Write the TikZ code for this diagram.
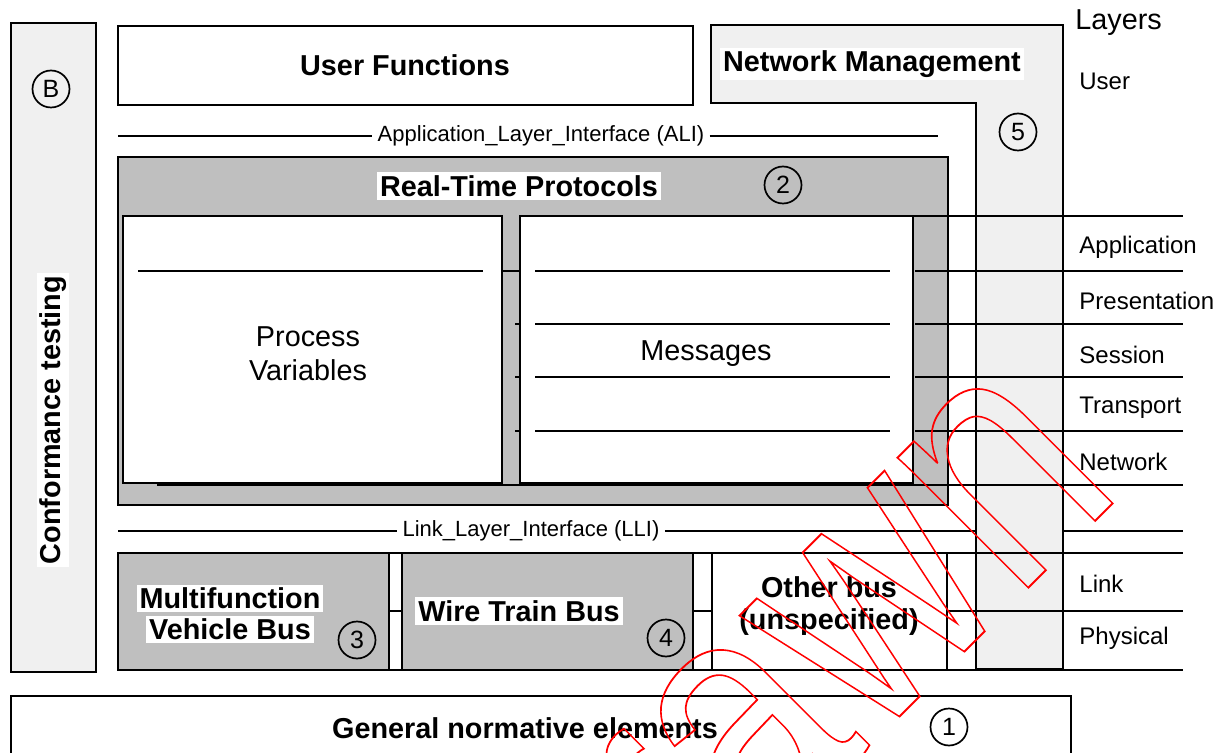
\documentclass[tikz,border=0pt]{standalone}
\usepackage{fontspec}
\setmainfont{Liberation Sans}
\usetikzlibrary{positioning}
\definecolor{lightgr}{gray}{0.94}
\definecolor{midgr}{gray}{0.75}
\tikzstyle{box}=[draw=black,line width=0.75pt]
\tikzstyle{lyr}=[line width=1.3pt]
\tikzstyle{ttl}=[fill=white,inner sep=1.5pt,font=\bfseries\fontsize{14.4}{16}\selectfont]
\tikzstyle{txt}=[inner sep=0pt,align=center,font=\fontsize{14.4}{17}\selectfont]
\tikzstyle{num}=[draw,circle,line width=0.85pt,minimum size=18.5pt,inner sep=0pt,font=\fontsize{12.5}{12.5}\selectfont]
\tikzstyle{lbl}=[anchor=west,inner sep=0pt,font=\fontsize{12}{14}\selectfont]
\tikzstyle{ifc}=[inner sep=2.5pt,font=\fontsize{11}{13}\selectfont]
\newcommand\hl[1]{{\fboxsep=1.5pt\colorbox{white}{#1}}}
\newcommand\outl[1]{\special{pdf:literal direct 1 Tr 0.9 w}#1\special{pdf:literal direct 0 Tr}}

\begin{document}
\begin{tikzpicture}[x=0.5pt,y=-0.5pt]
\useasboundingbox (0,0) rectangle (1225,753);
\clip (0,0) rectangle (1225,753);
% conformance testing
\draw[box,fill=lightgr] (11,23) rectangle (96,672);
\node[num] (nb) at (51,89) {B};
\node[ttl,rotate=90] (conf) at (53,420) {Conformance testing};
% user functions, network management
\draw[box,fill=white] (118,26) rectangle (693,105);
\node[ttl] (uf) at (405,65) {User Functions};
\draw[box,fill=lightgr] (711,25) -- (1063,25) -- (1063,669) -- (976,669) -- (976,103) -- (711,103) -- cycle;
\node[ttl] (nm) at (872,64) {Network Management};
\node[num] (n5) at (1018,132) {5};
% layers
\node[lbl,font=\fontsize{14.4}{16}\selectfont] (layers) at (1075,23) {Layers};
\foreach \y/\t [count=\i] in {81/User, 247/Application, 301/Presentation, 355/Session, 408/Transport, 462/Network, 584/Link, 638/Physical}
    \node[lbl] (l\i) at (1079,\y) {\t};
% ALI
\node[ifc] (ali) at (541,136) {Application\_Layer\_Interface (ALI)};
\draw[lyr] (118,136) -- (ali.west);
\draw[lyr] (ali.east) -- (938,136);
% real-time protocols
\draw[box,fill=midgr] (118,157) rectangle (948,505);
\node[ttl] (rtp) at (519,186) {Real-Time Protocols};
\node[num] (n2) at (783,185) {2};
\draw[box,fill=white] (123,216) rectangle (502,483);
\draw[box,fill=white] (520,216) rectangle (913,483);
\node[txt] (pv) at (308,354) {Process\\Variables};
\node[txt] (msg) at (706,354) {Messages};
\draw[lyr] (138,271) -- (483,271);
\draw[lyr] (502,271) -- (520,271);
\foreach \y in {271,324,377,431} {
    \draw[lyr] (535,\y) -- (890,\y);
    \draw[lyr] (915,\y) -- (1183,\y);}
\foreach \y in {324,377,431} \draw[lyr] (515,\y) -- (520,\y);
\draw[lyr] (913,216) -- (1183,216);
\draw[lyr] (157,485) -- (1183,485);
% LLI
\node[ifc] (lli) at (531,531) {Link\_Layer\_Interface (LLI)};
\draw[lyr] (118,531) -- (lli.west);
\draw[lyr] (lli.east) -- (976,531);
\draw[lyr] (1063,531) -- (1183,531);
% busses
\draw[box,fill=midgr] (118,553) rectangle (389,670);
\draw[box,fill=midgr] (402,553) rectangle (693,670);
\draw[box,fill=white] (712,553) rectangle (947,670);
\foreach \xa/\xb in {389/402, 693/712} {
    \draw[box,fill=white] (\xa,553) rectangle (\xb,670);
    \foreach \y in {553,611,670} \draw[lyr] (\xa,\y) -- (\xb,\y);}
\foreach \y in {553,611,670} \draw[lyr] (947,\y) -- (1183,\y);
\node[ttl,fill=none,inner sep=0pt,align=center] (mvb) at (230,614) {\hl{Multifunction}\\[-0.5pt]\hl{Vehicle Bus}};
\node[ttl] (wtb) at (519,611) {Wire Train Bus};
\node[ttl,fill=none,align=center] (oth) at (829,606) {Other bus\\(unspecified)};
\node[num] (n3) at (357,640) {3};
\node[num] (n4) at (666,638) {4};
% general
\draw[box,fill=white] (11,696) rectangle (1071,770);
\node[ttl] (gen) at (525,728) {General normative elements};
\node[num] (n1) at (949,727) {1};
% watermark
\node[text=red,rotate=45,xscale=0.81,anchor=base east,inner sep=0pt,font=\fontsize{174.5}{174.5}\selectfont] (wd) at (1126,490) {\outl{Withdrawn}};
\end{tikzpicture}
\end{document}
